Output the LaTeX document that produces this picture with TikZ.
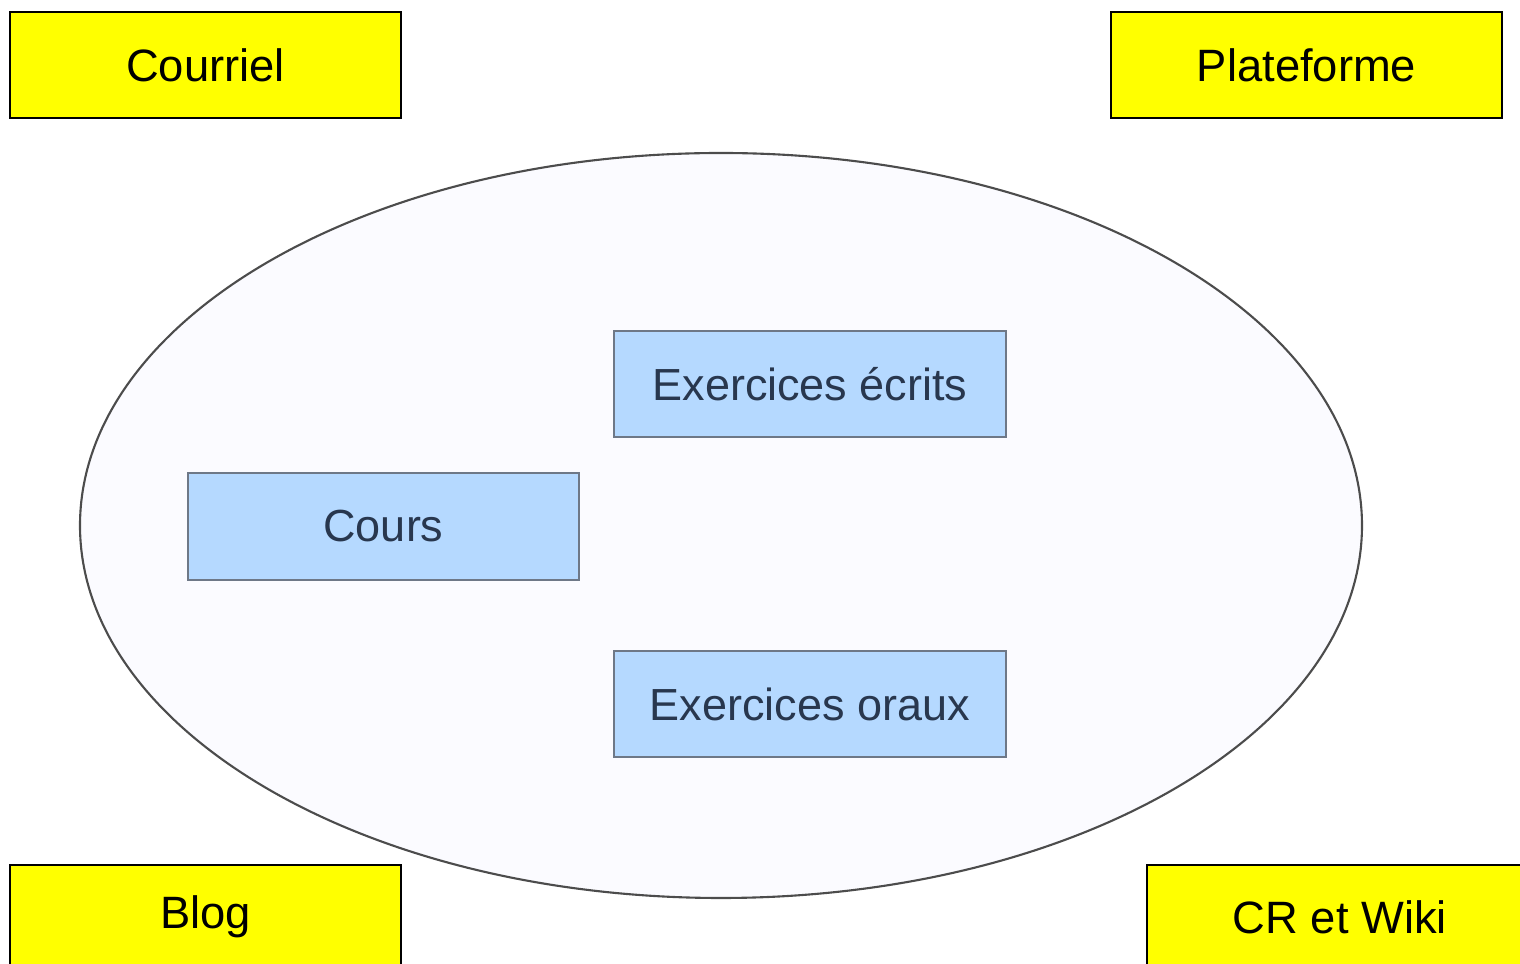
\documentclass[tikz,border=0pt]{standalone}
\usepackage{fontspec}
\setmainfont{Liberation Sans}
\usetikzlibrary{%
        positioning,
        shapes,
        shapes.geometric}
\definecolor{toolyellow}{RGB}{255,255,0}
\definecolor{partblue}{RGB}{181,217,255}
\definecolor{partedge}{RGB}{110,120,135}
\definecolor{parttext}{RGB}{40,55,78}
\definecolor{zonefill}{RGB}{251,251,255}
\tikzset{%
    tool/.style={draw=black, line width=0.7pt, fill=toolyellow,
        minimum width=3.91cm, minimum height=1.06cm, inner sep=0,
        font=\fontsize{12.9}{15}\selectfont},
    part/.style={draw=partedge, line width=0.7pt, fill=partblue,
        minimum width=3.92cm, minimum height=1.06cm, inner sep=0,
        text=parttext, font=\fontsize{12.8}{15}\selectfont}
}

\begin{document}
\begin{tikzpicture}

    \useasboundingbox (0, 0) rectangle (15.2, 9.64);

    \node[ellipse, draw=black!70, line width=0.6pt, fill=zonefill,
        minimum width=12.82cm, minimum height=7.45cm, inner sep=0]
        (zone) at (7.21, 4.385) {};

    \node[tool] (courriel) at (2.055, 8.99) {Courriel};
    \node[tool] (plateforme) at (13.065, 8.99) {Plateforme};
    \node[tool, minimum height=1.04cm] (blog) at (2.055, 0.47) {Blog};
    \node[tool, minimum height=1.04cm, minimum width=3.86cm] (wiki)
        at (13.40, 0.47) {CR et Wiki};

    \node[part] (ecrits) at (8.10, 5.80) {Exercices écrits};
    \node[part, minimum width=3.91cm, minimum height=1.07cm] (cours)
        at (3.835, 4.375) {Cours};
    \node[part] (oraux) at (8.10, 2.60) {Exercices oraux};

\end{tikzpicture}
\end{document}
